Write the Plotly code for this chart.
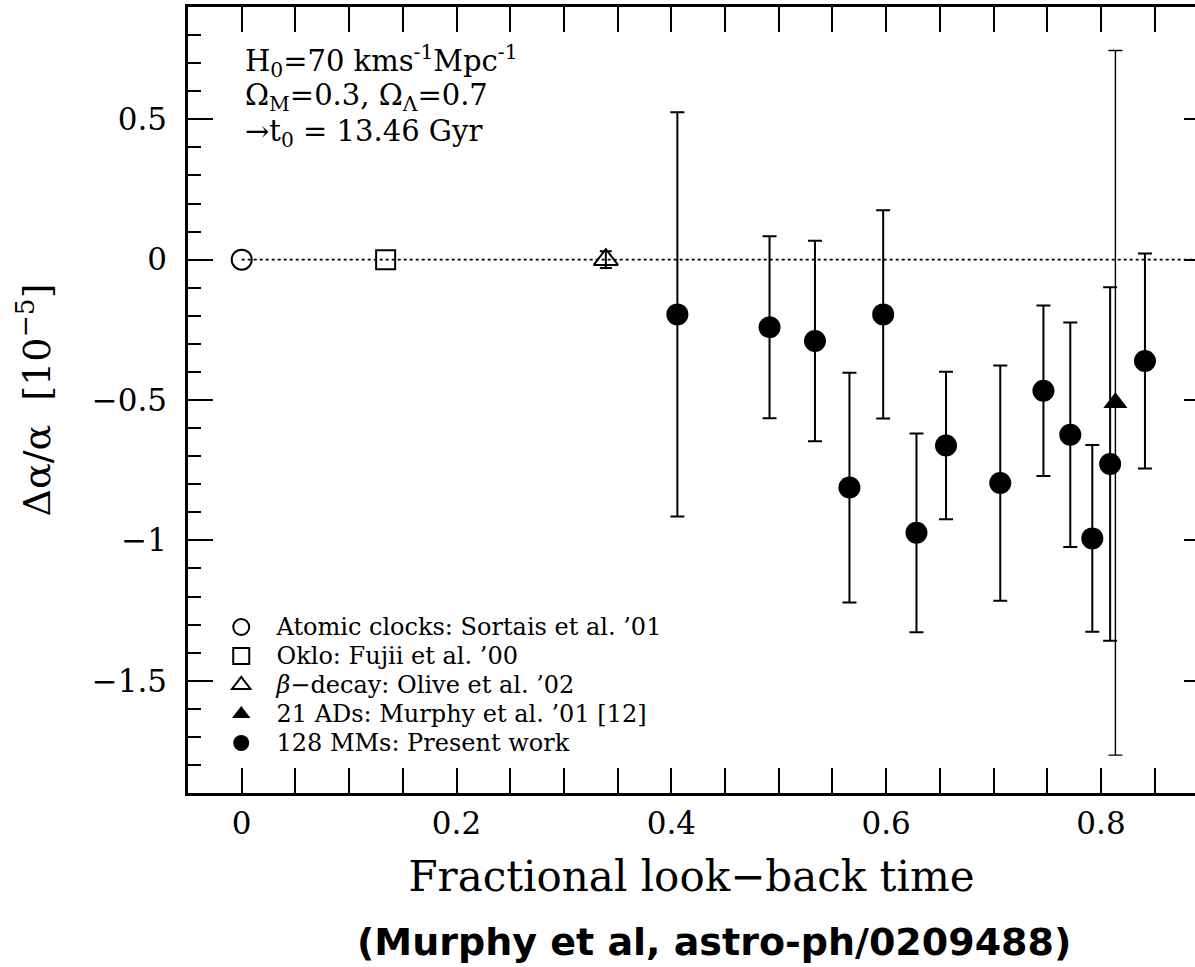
import plotly.graph_objects as go

# ---------------- data ----------------
clock_x = [0.0]
clock_y = [0.0]

oklo_x = [0.134]
oklo_y = [0.0]

beta_x = [0.339]
beta_y = [0.0]
beta_err = [0.03]

ads_x = [0.8134]
ads_y = [-0.51]
ads_err = [1.255]

mm_x = [0.4056, 0.4914, 0.5337, 0.5658, 0.5972, 0.6282, 0.6557,
        0.7062, 0.7464, 0.7714, 0.7919, 0.8085, 0.8409]
mm_y = [-0.195, -0.241, -0.290, -0.812, -0.195, -0.973, -0.662,
        -0.796, -0.467, -0.624, -0.993, -0.728, -0.361]
mm_err = [0.720, 0.324, 0.357, 0.409, 0.371, 0.354, 0.263,
          0.419, 0.304, 0.400, 0.333, 0.630, 0.383]

legend_names = [
    "Atomic clocks: Sortais et al. \u201901",
    "Oklo: Fujii et al. \u201900",
    "<i>\u03b2</i>\u2212decay: Olive et al. \u201902",
    "21 ADs: Murphy et al. \u201901 [12]",
    "128 MMs: Present work",
]

x_tickvals = [0, 0.2, 0.4, 0.6, 0.8]
x_ticktext = ["0", "0.2", "0.4", "0.6", "0.8"]
y_tickvals = [0.5, 0, -0.5, -1, -1.5]
y_ticktext = ["0.5", "0", "\u22120.5", "\u22121", "\u22121.5"]

info_lines = [
    "H<sub>0</sub>=70 kms<sup>-1</sup>Mpc<sup>-1</sup>",
    "\u03a9<sub>M</sub>=0.3, \u03a9<sub>\u039b</sub>=0.7",
    "\u2192t<sub>0</sub> = 13.46 Gyr",
]
x_title = "Fractional look\u2212back time"
y_title = "\u0394\u03b1/\u03b1  [10<sup>\u22125</sup>]"
caption = "(Murphy et al, astro-ph/0209488)"

X_RANGE = [-0.05, 0.8875]
Y_RANGE = [-1.9, 0.9]

# ---------------- figure ----------------
SERIF = "DejaVu Serif"
LEG_SPAN = '<span style="font-size:24px">\u00a0\u00a0{}</span>'

fig = go.Figure()

fig.add_shape(type="line", xref="x", yref="y",
              x0=clock_x[0], x1=X_RANGE[1], y0=0, y1=0,
              line=dict(color="black", width=1.6, dash="dot"), layer="below")

fig.add_trace(go.Scatter(
    x=clock_x, y=clock_y, mode="markers", name=LEG_SPAN.format(legend_names[0]),
    marker=dict(symbol="circle-open", size=20, color="black", line=dict(width=2))))

fig.add_trace(go.Scatter(
    x=oklo_x, y=oklo_y, mode="markers", name=LEG_SPAN.format(legend_names[1]),
    marker=dict(symbol="square-open", size=19, color="black", line=dict(width=2))))

fig.add_trace(go.Scatter(
    x=beta_x, y=beta_y, mode="markers", name=LEG_SPAN.format(legend_names[2]),
    error_y=dict(type="data", array=beta_err, color="black", thickness=2, width=6),
    marker=dict(symbol="triangle-up-open", size=21, color="black", line=dict(width=2))))

fig.add_trace(go.Scatter(
    x=ads_x, y=ads_y, mode="markers", name=LEG_SPAN.format(legend_names[3]),
    error_y=dict(type="data", array=ads_err, color="black", thickness=1.4, width=7),
    marker=dict(symbol="triangle-up", size=21, color="black")))

fig.add_trace(go.Scatter(
    x=mm_x, y=mm_y, mode="markers", name=LEG_SPAN.format(legend_names[4]),
    error_y=dict(type="data", array=mm_err, color="black", thickness=2, width=7),
    marker=dict(symbol="circle", size=22, color="black")))

# empty trace to carry the right-hand tick axis
fig.add_trace(go.Scatter(x=[], y=[], yaxis="y2", showlegend=False, hoverinfo="skip"))

for i, line in enumerate(info_lines):
    fig.add_annotation(text=line, xref="paper", yref="paper",
                       x=0.0546, y=[0.931, 0.886, 0.840][i],
                       xanchor="left", yanchor="middle", showarrow=False,
                       font=dict(family=SERIF, size=29, color="black"))

fig.add_annotation(text="<b>" + caption + "</b>", xref="paper", yref="paper",
                   x=0.5228, y=-0.19, xanchor="center", yanchor="middle",
                   showarrow=False,
                   font=dict(family="DejaVu Sans", size=38, color="black"))

fig.update_layout(
    width=1195, height=967,
    margin=dict(l=188, r=0, t=7, b=174),
    paper_bgcolor="white", plot_bgcolor="white",
    font=dict(family=SERIF, color="black"),
    showlegend=True,
    legend=dict(x=0.033, y=0.236, xanchor="left", yanchor="top",
                bgcolor="rgba(0,0,0,0)", borderwidth=0,
                font=dict(family=SERIF, size=20, color="black"),
                itemsizing="trace", tracegroupgap=0),
    xaxis=dict(range=X_RANGE, showgrid=False, zeroline=False,
               showline=True, linewidth=2.5, linecolor="black", mirror="allticks",
               ticks="inside", ticklen=25, tickwidth=2, tickcolor="black",
               tickvals=x_tickvals, ticktext=x_ticktext,
               minor=dict(ticks="inside", ticklen=13, tickwidth=2, tickcolor="black",
                          dtick=0.05, tick0=0, showgrid=False),
               tickfont=dict(family=SERIF, size=31, color="black"),
               ticklabelstandoff=1,
               title=dict(text=x_title, font=dict(family=SERIF, size=42, color="black"),
                          standoff=22),
               automargin=False),
    yaxis=dict(range=Y_RANGE, showgrid=False, zeroline=False,
               showline=True, linewidth=2.5, linecolor="black", mirror=False,
               ticks="inside", ticklen=25, tickwidth=2, tickcolor="black",
               tickvals=y_tickvals, ticktext=y_ticktext,
               minor=dict(ticks="inside", ticklen=13, tickwidth=2, tickcolor="black",
                          dtick=0.1, tick0=0, showgrid=False),
               tickfont=dict(family=SERIF, size=31, color="black"),
               ticklabelstandoff=12,
               title=dict(text=y_title, font=dict(family=SERIF, size=38, color="black"),
                          standoff=30),
               automargin=False),
    yaxis2=dict(range=Y_RANGE, overlaying="y", side="right", anchor="x",
                showgrid=False, zeroline=False, showline=False,
                ticks="inside", ticklen=11, tickwidth=2, tickcolor="black",
                tickvals=y_tickvals, showticklabels=False),
)

fig.write_html("out.html", config={"displayModeBar": False},
               post_script="document.body.style.margin='0';document.body.style.overflow='hidden';")
